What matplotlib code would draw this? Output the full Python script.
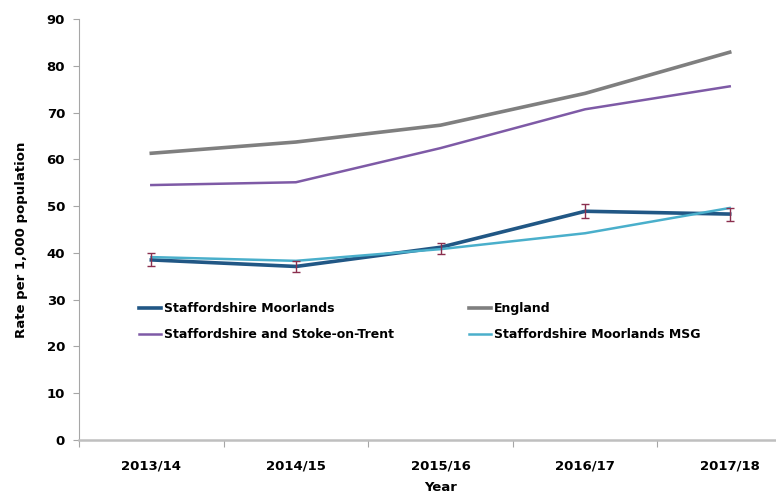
import numpy as np
import matplotlib.pyplot as plt

years = ["2013/14", "2014/15", "2015/16", "2016/17", "2017/18"]
moorlands = [38.5, 37.1, 41.2, 48.9, 48.3]
moorlands_low = [37.3, 36.0, 39.8, 47.4, 46.9]
moorlands_high = [39.9, 38.3, 42.2, 50.4, 49.5]
england = [61.3, 63.7, 67.3, 74.1, 82.9]
staffs_stoke = [54.5, 55.1, 62.4, 70.7, 75.6]
moorlands_msg = [39.1, 38.3, 40.8, 44.2, 49.6]

plt.rcParams['font.family'] = ['DejaVu Sans']
plt.rcParams['font.weight'] = 'bold'

fig = plt.figure(figsize=(7.76, 4.96), dpi=100)
ax = fig.add_axes([79 / 776, 1 - 440 / 496, 723 / 776, 421 / 496])

x = np.arange(len(years)) + 0.5
err = [np.array(moorlands) - np.array(moorlands_low),
       np.array(moorlands_high) - np.array(moorlands)]

l1, = ax.plot(x, moorlands, color='#215785', lw=2.6, zorder=4,
              label='Staffordshire Moorlands')
ax.errorbar(x, moorlands, yerr=err, fmt='none', ecolor='#8B2F4E',
            elinewidth=1.0, capsize=3, capthick=1.0, zorder=5)
l2, = ax.plot(x, england, color='#7F7F7F', lw=2.6, zorder=3, label='England')
l3, = ax.plot(x, staffs_stoke, color='#7E5AA6', lw=1.8, zorder=3,
              label='Staffordshire and Stoke-on-Trent')
l4, = ax.plot(x, moorlands_msg, color='#4AAFCB', lw=1.8, zorder=4,
              label='Staffordshire Moorlands MSG')

ax.set_xlim(0, len(years))
ax.set_ylim(0, 90)
ax.set_yticks(range(0, 91, 10))
ax.set_xticks(np.arange(len(years) + 1))
ax.set_xticklabels([])
ax.set_xticks(x, minor=True)
ax.set_xticklabels(years, minor=True)
ax.tick_params(axis='x', which='minor', length=0, pad=14, labelsize=9.5)
ax.tick_params(axis='x', which='major', length=5, color='#A6A6A6', direction='out')
ax.tick_params(axis='y', length=4, color='#A6A6A6', labelsize=9.5, pad=6)

for side in ('top', 'right'):
    ax.spines[side].set_visible(False)
ax.spines['left'].set_color('#A6A6A6')
ax.spines['left'].set_linewidth(0.8)
ax.spines['bottom'].set_color('#BFBFBF')
ax.spines['bottom'].set_linewidth(1.8)

ax.set_xlabel('Year', fontsize=9.5, fontweight='bold', labelpad=6)
fig.text(22 / 776, 1 - 240 / 496, 'Rate per 1,000 population', rotation=90,
         ha='center', va='center', fontsize=9.5, fontweight='bold')

# two-column legend sitting inside the plot area, below the lines
ax.legend(handles=[l1, l3, l2, l4], ncol=2, frameon=False,
          loc='upper left', bbox_to_anchor=(128 / 776, 1 - 291 / 496),
          bbox_transform=fig.transFigure, handlelength=1.7,
          handletextpad=0.3, columnspacing=6.0, labelspacing=1.05,
          prop={'weight': 'bold', 'size': 9})

fig.savefig('out.png', dpi=100)
